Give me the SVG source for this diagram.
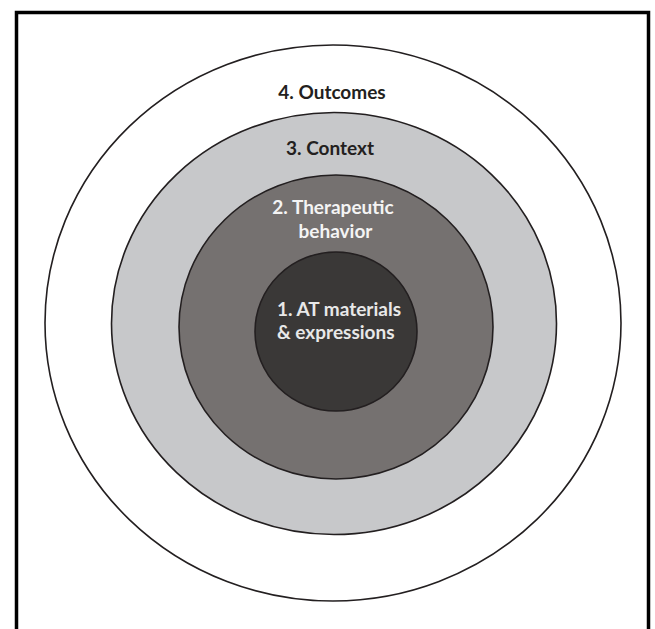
<svg xmlns="http://www.w3.org/2000/svg" width="655" height="629" viewBox="0 0 655 629">
<style>
.ring{stroke:#231f20;stroke-width:1.6}
.lbl{font-family:Lato,"Liberation Sans",sans-serif;font-weight:bold;font-size:19px}
</style>
<rect x="0" y="0" width="655" height="629" fill="#ffffff"/>
<rect x="16.5" y="12.5" width="632" height="640" fill="none" stroke="#000" stroke-width="3.5"/>
<g id="ring4">
<ellipse class="ring" cx="333" cy="323" rx="288" ry="278" fill="#ffffff"/>
<text class="lbl" x="332" y="99" text-anchor="middle" fill="#231f20">4. Outcomes</text>
</g>
<g id="ring3">
<ellipse class="ring" cx="334" cy="323.5" rx="222.5" ry="211" fill="#c7c8ca"/>
<text class="lbl" x="330" y="155" text-anchor="middle" fill="#231f20">3. Context</text>
</g>
<g id="ring2">
<ellipse class="ring" cx="336" cy="327" rx="157" ry="152" fill="#757170"/>
<text class="lbl" x="333" y="214" text-anchor="middle" fill="#f4f4f4">2. Therapeutic</text>
<text class="lbl" x="335.5" y="238" text-anchor="middle" fill="#f4f4f4">behavior</text>
</g>
<g id="ring1">
<ellipse class="ring" cx="336" cy="331.5" rx="81" ry="79.5" fill="#3a3837"/>
<text class="lbl" x="277" y="316" fill="#e8e8e8">1. AT materials</text>
<text class="lbl" x="277" y="339" fill="#e8e8e8">&amp; expressions</text>
</g>
<g id="connectors"/>
</svg>
